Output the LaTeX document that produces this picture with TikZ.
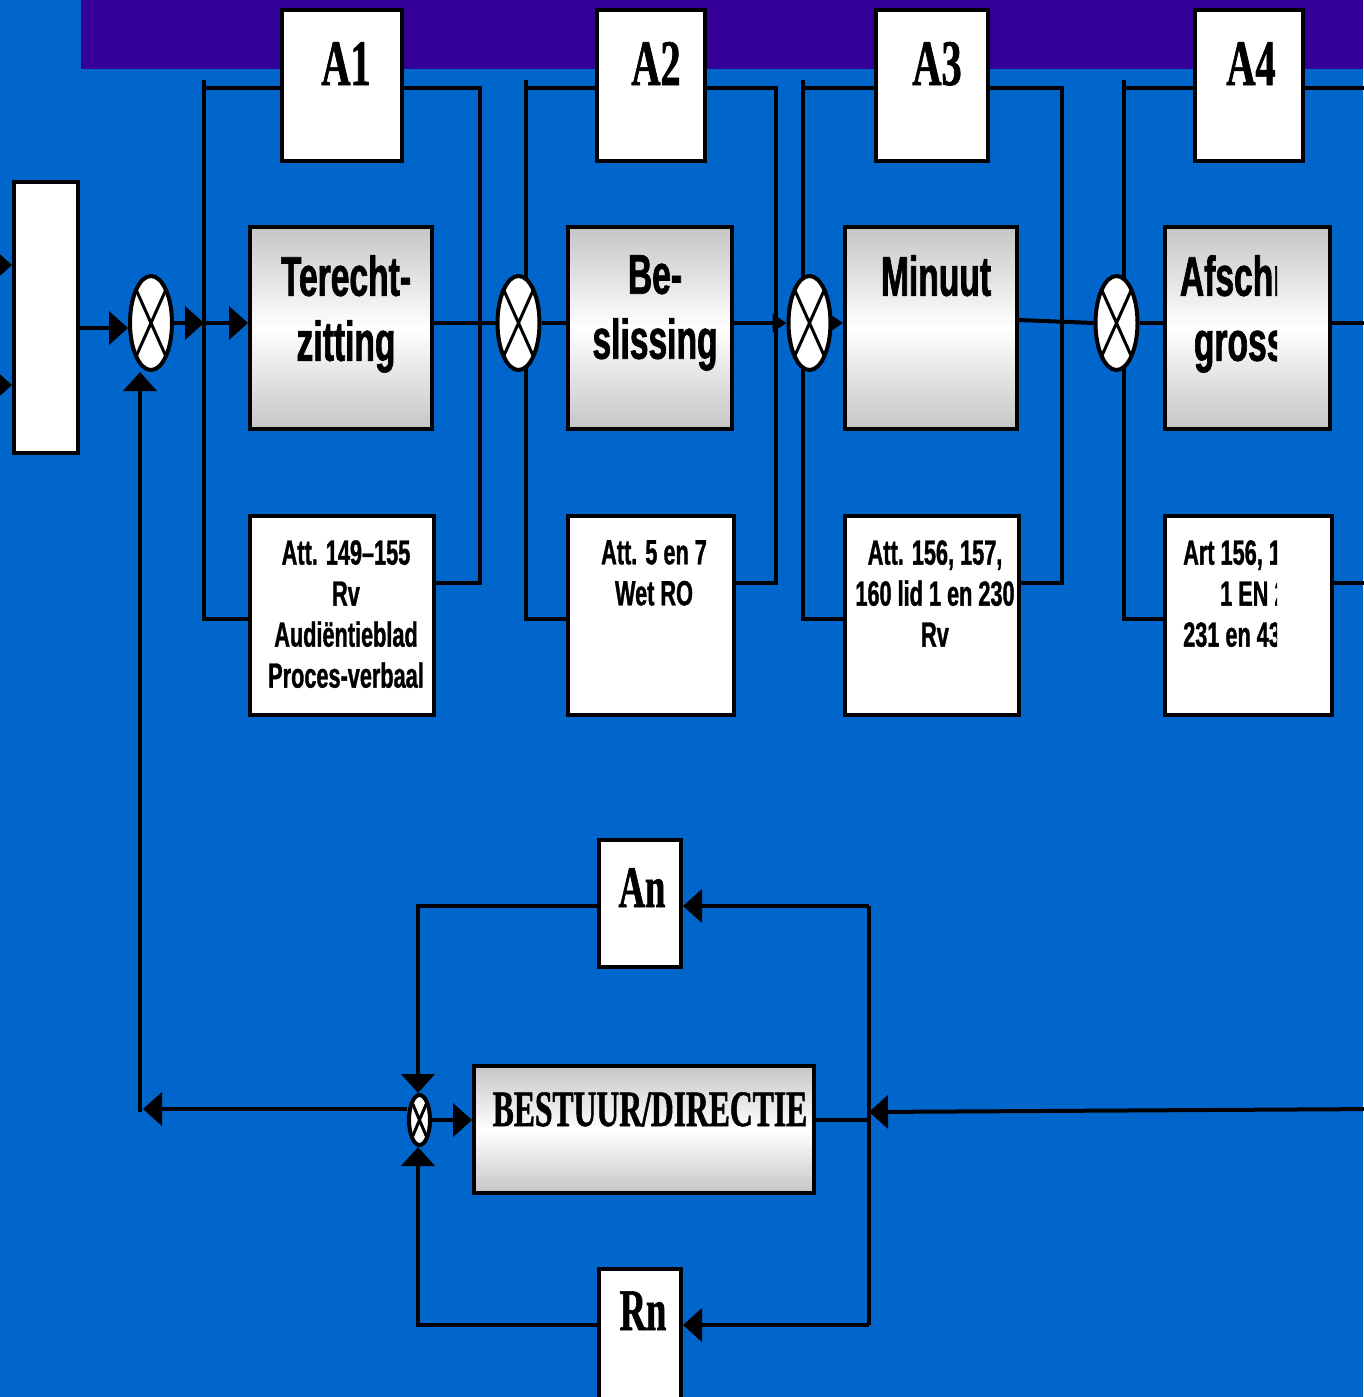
\documentclass[tikz,border=0pt]{standalone}
\usepackage{fontspec}
\setmainfont{Liberation Serif}
\newfontfamily\sansc[FakeStretch=0.6,FakeBold=1.2]{Liberation Sans Bold}
\newfontfamily\sansd[FakeStretch=0.62,FakeBold=1]{Liberation Sans Bold}
\newfontfamily\serifc[FakeStretch=0.62,FakeBold=1]{Liberation Serif Bold}
\usetikzlibrary{arrows.meta,shapes.geometric,calc}
\definecolor{bgblue}{RGB}{0,102,204}
\definecolor{band}{RGB}{51,0,153}
\pgfdeclarelayer{bgl}
\pgfdeclarelayer{lines}
\pgfsetlayers{bgl,lines,main}
\begin{document}
\begin{tikzpicture}[x=1pt,y=-1pt,
  ln/.style={line width=4pt},
  arr/.style={line width=4pt,-{Triangle[length=19pt,width=33pt]}},
  sarr/.style={line width=4pt,-{Triangle[length=14pt,width=18pt]}},
  wbox/.style={draw,line width=4pt,fill=white,inner sep=0pt},
  gbox/.style={draw,line width=4pt,top color=gray!45,bottom color=gray!45,middle color=white,inner sep=0pt},
  xc/.style={ellipse,draw,line width=4pt,fill=white,inner sep=0pt,
    path picture={\draw[line width=3pt] (path picture bounding box.north west) -- (path picture bounding box.south east)
      (path picture bounding box.south west) -- (path picture bounding box.north east);}},
  bigt/.style={font=\sansc\fontsize{56}{65}\selectfont,align=center,inner sep=0pt,anchor=north},
  smt/.style={font=\sansd\fontsize{35}{41}\selectfont,align=center,inner sep=0pt,anchor=north},
  lab/.style={font=\serifc\fontsize{#1}{#1}\selectfont,inner sep=0pt,anchor=base},
]
\useasboundingbox (0,0) rectangle (1363,1397);
\begin{pgfonlayer}{bgl}
\fill[bgblue] (0,0) rectangle (1363,1397);
\fill[band] (81,0) rectangle (1363,69);
\end{pgfonlayer}

% left box
\node[wbox,minimum width=64,minimum height=271] (L) at (46,317.5) {};
% top A boxes
\node[wbox,minimum width=120,minimum height=151] (A1) at (342,85.5) {};
\node[wbox,minimum width=108,minimum height=151] (A2) at (651,85.5) {};
\node[wbox,minimum width=112,minimum height=151] (A3) at (932,85.5) {};
\node[wbox,minimum width=108,minimum height=151] (A4) at (1249,85.5) {};
% process boxes
\node[gbox,minimum width=182,minimum height=202] (B1) at (341,328) {};
\node[gbox,minimum width=164,minimum height=202] (B2) at (650,328) {};
\node[gbox,minimum width=172,minimum height=202] (B3) at (931,328) {};
\node[gbox,minimum width=165,minimum height=202] (B4) at (1247.5,328) {};
% article boxes
\node[wbox,minimum width=184,minimum height=199] (C1) at (342,615.5) {};
\node[wbox,minimum width=166,minimum height=199] (C2) at (651,615.5) {};
\node[wbox,minimum width=174,minimum height=199] (C3) at (932,615.5) {};
\node[wbox,minimum width=167,minimum height=199] (C4) at (1248.5,615.5) {};
% summing circles
\node[xc,minimum width=42,minimum height=94] (c1) at (151,323) {};
\node[xc,minimum width=42,minimum height=94] (c2) at (518.5,323) {};
\node[xc,minimum width=42,minimum height=94] (c3) at (809.5,323) {};
\node[xc,minimum width=42,minimum height=94] (c4) at (1116.5,323) {};
% bottom part
\node[wbox,minimum width=82,minimum height=127] (An) at (640,903.5) {};
\node[wbox,minimum width=82,minimum height=169] (Rn) at (640,1353.5) {};
\node[gbox,minimum width=340,minimum height=127] (BD) at (644,1129.5) {};
\node[xc,minimum width=21,minimum height=50] (sc) at (419.5,1120) {};

% texts
\node[lab=65] (tA1) at (346,85) {A1};
\node[lab=65] (tA2) at (656,85) {A2};
\node[lab=65] (tA3) at (937,85) {A3};
\node[bigt] (tB1) at (346,255) {Terecht-\\zitting};
\node[bigt] (tB2) at (655,255) {Be-\\slissing};
\node[bigt] (tB3) at (936,255) {Minuut};
\node[smt] (tC1) at (346,540) {Att. 149–155\\Rv\\Audiëntieblad\\Proces-verbaal};
\node[smt] (tC2) at (654,540) {Att. 5 en 7\\Wet RO};
\node[smt] (tC3) at (935,540) {Att. 156, 157,\\160 lid 1 en 230\\Rv};
\begin{scope}
\clip (1150,0) rectangle (1277,760);
\node[lab=65] (tA4) at (1251,85) {A4};
\node[bigt] (tB4) at (1249,255) {Afschrift\\grosse};
\node[smt,anchor=north west,align=left] (tC4) at (1183,540) {Art 156, 160\\\hspace*{37pt}1 EN 230\\231 en 433};
\end{scope}
\node[lab=59] (tAn) at (642,907) {An};
\node[lab=59] (tRn) at (643,1330) {Rn};
\node[lab=51] (tBD) at (650,1126) {BESTUUR/DIRECTIE};

% coordinates for free ends and corners
\coordinate (in1) at (-30,265);
\coordinate (in2) at (-30,385);
\coordinate (j1) at (204,323);
\coordinate (out1) at (1380,323);
\foreach \k/\xl/\xr in {1/204/480,2/526/776,3/803/1062,4/1124/1380}{
  \coordinate (s\k t) at (\xl,80);
  \coordinate (s\k b) at (\xl,619);
  \coordinate (s\k r) at (\xr,88);
  \coordinate (s\k rb) at (\xr,583);
}
\coordinate (fbh) at (143,1109);
\coordinate (fbv) at (140,1112);
\coordinate (rt) at (869,906);
\coordinate (rb) at (869,1325);
\coordinate (lt) at (418,906);
\coordinate (lb) at (418,1325);
\coordinate (rin) at (869,1112);
\coordinate (ext) at (1380,1109);

\begin{pgfonlayer}{lines}
% inputs
\draw[arr] (in1) -- (in1 -| L.west);
\draw[arr] (in2) -- (in2 -| L.west);
\draw[arr] ($(L.east)+(0,10.5)$) -- ($(c1.west)+(0,5)$);
\draw[arr] (c1.east) -- (j1);
\draw[arr] (j1) -- (j1 -| B1.west);
\draw[ln] (B1.east |- c2) -- (c2.west);
\draw[ln] (c2.east) -- (c2 -| B2.west);
\draw[sarr] (B2.east |- c3) -- (c3.west);
\draw[sarr] (c3.east) -- (c3 -| B3.west);
\draw[ln] ($(B3.east)+(0,-8)$) -- (c4.west);
\draw[ln] (c4.east) -- (c4 -| B4.west);
\draw[ln] (B4.east |- c4) -- (out1);
% brackets
\foreach \k in {1,2,3}{
  \draw[ln] (s\k t) -- (s\k b) -- (s\k b -| C\k.west);
  \draw[ln] (s\k t |- s\k r) -- (s\k r -| A\k.west);
  \draw[ln] (A\k.east |- s\k r) -- (s\k r) -- (s\k rb) -- (s\k rb -| C\k.east);
}
\draw[ln] (s4t) -- (s4b) -- (s4b -| C4.west);
\draw[ln] (s4t |- s4r) -- (s4r -| A4.west);
\draw[ln] (A4.east |- s4r) -- (s4r);
\draw[ln] (C4.east |- s4rb) -- (s4rb);
% feedback
\draw[arr] (sc.west |- fbh) -- (fbh);
\draw[arr] (fbv) -- (fbv |- c1.south);
\draw[ln] (rt) -- (rb);
\draw[arr] (rt) -- (rt -| An.east);
\draw[arr] (An.west |- lt) -- (lt) -- (lt |- sc.north);
\draw[arr] (rb) -- (rb -| Rn.east);
\draw[arr] (Rn.west |- lb) -- (lb) -- (lb |- sc.south);
\draw[arr] (sc.east) -- (sc.east -| BD.west);
\draw[ln] (BD.east |- sc.east) -- (sc.east -| rt);
\draw[arr] (ext) -- (rin);
\end{pgfonlayer}
\end{tikzpicture}
\end{document}
